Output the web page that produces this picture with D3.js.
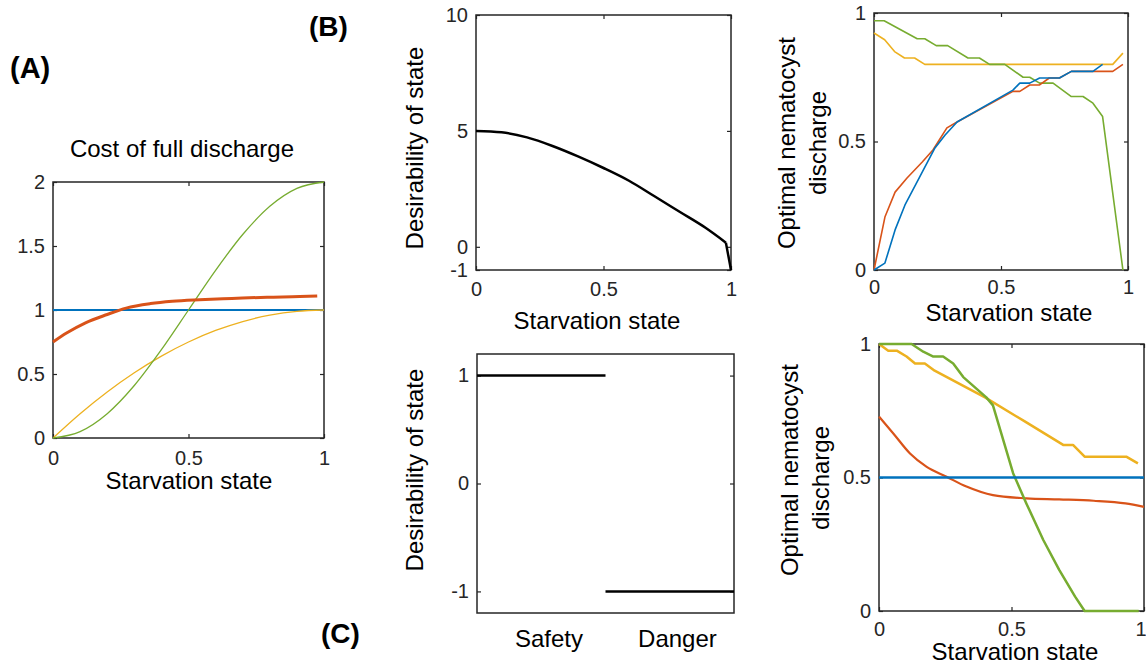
<!DOCTYPE html>
<html>
<head>
<meta charset="utf-8">
<script src="https://cdn.jsdelivr.net/npm/d3@7"></script>
<style>
body { margin: 0; background: #fff; }
svg { display: block; font-family: "Liberation Sans", Arial, sans-serif; }
</style>
</head>
<body>
<svg id="fig" width="1146" height="664"></svg>
<script>
// --- data ---

// (A) cost of full discharge
var costX = [0, 0.1, 0.2, 0.3, 0.4, 0.5, 0.6, 0.7, 0.8, 0.9, 1];
var costBlue = [1, 1, 1, 1, 1, 1, 1, 1, 1, 1, 1];
var costYellow = [0, 0.19, 0.36, 0.51, 0.64, 0.75, 0.84, 0.91, 0.96, 0.99, 1];
var costGreen = [0, 0.05, 0.19, 0.41, 0.69, 1, 1.31, 1.59, 1.81, 1.95, 2];
var costRedX = [0, 0.05, 0.12, 0.2, 0.27, 0.36, 0.44, 0.54, 0.66, 0.79, 0.91, 0.975];
var costRed = [0.75, 0.82, 0.9, 0.965, 1.015, 1.05, 1.068, 1.08, 1.09, 1.1, 1.105, 1.11];

// (B) desirability vs starvation (smooth part, then the drop at the end)
var desirX = [0, 0.1, 0.2, 0.3, 0.4, 0.5, 0.6, 0.7, 0.8, 0.9, 0.98];
var desirY = [5, 4.94, 4.72, 4.35, 3.9, 3.4, 2.85, 2.18, 1.5, 0.82, 0.18];
var desirDropX = [0.98, 1];
var desirDropY = [0.18, -1];

// (B) optimal discharge, [starvation, discharge]
var topBlue = [[0, 0], [0.043, 0.027], [0.083, 0.156], [0.122, 0.253], [0.18, 0.362], [0.24, 0.475],
  [0.28, 0.525], [0.327, 0.576], [0.547, 0.7], [0.574, 0.727], [0.613, 0.727], [0.652, 0.747],
  [0.73, 0.747], [0.777, 0.773], [0.862, 0.773], [0.9, 0.8]];
var topRed = [[0, 0], [0.043, 0.206], [0.083, 0.303], [0.13, 0.358], [0.19, 0.42], [0.232, 0.467],
  [0.287, 0.553], [0.327, 0.576], [0.547, 0.695], [0.574, 0.695], [0.613, 0.72], [0.652, 0.72],
  [0.69, 0.747], [0.73, 0.747], [0.777, 0.773], [0.94, 0.773], [0.98, 0.8]];
var topYellow = [[0, 0.922], [0.042, 0.896], [0.081, 0.85], [0.12, 0.825], [0.16, 0.825], [0.2, 0.8],
  [0.94, 0.8], [0.98, 0.844]];
var topGreen = [[0, 0.97], [0.04, 0.97], [0.17, 0.9], [0.2, 0.9], [0.245, 0.873], [0.29, 0.873],
  [0.37, 0.825], [0.415, 0.825], [0.455, 0.8], [0.515, 0.8], [0.587, 0.75], [0.613, 0.75],
  [0.652, 0.727], [0.705, 0.727], [0.777, 0.675], [0.823, 0.675], [0.862, 0.649], [0.9, 0.597],
  [0.98, 0]];

// (C) desirability of safety / danger
var states = ["Safety", "Danger"];
var stateValues = [1, -1];

// (C) optimal discharge
var botBlue = [[0, 0.5], [1, 0.5]];
var botRed = [[0, 0.728], [0.054, 0.665], [0.117, 0.59], [0.18, 0.54], [0.255, 0.503], [0.33, 0.466],
  [0.43, 0.434], [0.556, 0.422], [0.68, 0.418], [0.81, 0.413], [0.93, 0.403], [1, 0.39]];
var botYellow = [[0, 1], [0.035, 0.975], [0.067, 0.975], [0.104, 0.953], [0.136, 0.927], [0.173, 0.927],
  [0.21, 0.9], [0.4, 0.8], [0.55, 0.71], [0.695, 0.622], [0.732, 0.622], [0.776, 0.578],
  [0.933, 0.578], [0.977, 0.553]];
var botGreen = [[0, 1], [0.123, 1], [0.167, 0.971], [0.205, 0.953], [0.242, 0.953], [0.28, 0.927],
  [0.318, 0.876], [0.405, 0.8], [0.43, 0.77], [0.506, 0.516], [0.556, 0.403], [0.62, 0.266],
  [0.68, 0.154], [0.74, 0.054], [0.776, 0], [0.98, 0]];

var blue = "#0072BD", red = "#D95319", yellow = "#EDB120", green = "#77AC30";
var axisColor = "#262626";

var svg = d3.select("#fig");

function fmt(d) { return String(d); }

// one MATLAB-style boxed axes, ticks pointing inward on all four sides
function makeAxes(box, xDomain, yDomain, xTicks, yTicks, pad) {
	var g = svg.append("g").attr("transform", "translate(" + box.x + "," + box.y + ")");
	var x = d3.scaleLinear().domain(xDomain).range([0, box.w]);
	var y = d3.scaleLinear().domain(yDomain).range([box.h, 0]);

	if (xTicks) {
		g.append("g").attr("class", "ax xb").attr("transform", "translate(0," + box.h + ")")
			.call(d3.axisBottom(x).tickValues(xTicks).tickSize(-4).tickPadding(pad || 12).tickFormat(fmt));
		g.append("g").attr("class", "ax")
			.call(d3.axisTop(x).tickValues(xTicks).tickSize(-4).tickFormat(""));
	}
	g.append("g").attr("class", "ax")
		.call(d3.axisLeft(y).tickValues(yTicks).tickSize(-4).tickPadding(8).tickFormat(fmt));
	g.append("g").attr("class", "ax").attr("transform", "translate(" + box.w + ",0)")
		.call(d3.axisRight(y).tickValues(yTicks).tickSize(-4).tickFormat(""));

	g.selectAll(".ax .domain").remove();
	g.selectAll(".ax line").attr("stroke", axisColor).attr("stroke-width", 1.2);
	g.selectAll(".ax text").attr("fill", axisColor).style("font-size", "20px")
		.style("font-family", "'Liberation Sans', Arial, sans-serif");

	g.append("rect").attr("width", box.w).attr("height", box.h)
		.attr("fill", "none").attr("stroke", axisColor).attr("stroke-width", 1.5);
	return { g: g, x: x, y: y };
}

function drawPairs(ax, pts, color, width, curve) {
	ax.g.append("path").datum(pts)
		.attr("fill", "none").attr("stroke", color).attr("stroke-width", width)
		.attr("stroke-linejoin", "round")
		.attr("d", d3.line().x(function(d) { return ax.x(d[0]); }).y(function(d) { return ax.y(d[1]); })
			.curve(curve || d3.curveLinear));
}

function zipXY(xs, ys) { return xs.map(function(v, i) { return [v, ys[i]]; }); }

function label(txt, x, y, size, opts) {
	opts = opts || {};
	var t = svg.append("text").attr("x", x).attr("y", y).text(txt)
		.attr("fill", opts.fill || "#000").style("font-size", size + "px")
		.attr("text-anchor", opts.anchor || "middle");
	if (opts.bold) t.style("font-weight", "bold");
	if (opts.rotate) t.attr("transform", "rotate(-90," + x + "," + y + ")");
	return t;
}

// --- (A) ---
var axA = makeAxes({ x: 53, y: 182, w: 271, h: 256 }, [0, 1], [0, 2], [0, 0.5, 1], [0, 0.5, 1, 1.5, 2], 13);
drawPairs(axA, zipXY(costX, costBlue), blue, 2.2);
drawPairs(axA, zipXY(costX, costYellow), yellow, 1.3, d3.curveMonotoneX);
drawPairs(axA, zipXY(costX, costGreen), green, 1.3, d3.curveMonotoneX);
drawPairs(axA, zipXY(costRedX, costRed), red, 3, d3.curveMonotoneX);
label("Cost of full discharge", 182, 157, 24);
label("Starvation state", 189, 489, 24);

// --- (B) desirability ---
var axB1 = makeAxes({ x: 476, y: 15, w: 255, h: 255 }, [0, 1], [-1, 10], [0, 0.5, 1], [-1, 0, 5, 10], 12);
drawPairs(axB1, zipXY(desirX, desirY), "#000", 2.5, d3.curveMonotoneX);
drawPairs(axB1, zipXY(desirDropX, desirDropY), "#000", 2.5);
label("Desirability of state", 423, 148, 24, { rotate: true });
label("Starvation state", 597, 329, 24);

// --- (B) optimal discharge ---
var axB2 = makeAxes({ x: 874, y: 13, w: 254, h: 257 }, [0, 1], [0, 1], [0, 0.5, 1], [0, 0.5, 1], 10);
drawPairs(axB2, topYellow, yellow, 1.6);
drawPairs(axB2, topGreen, green, 1.6);
drawPairs(axB2, topRed, red, 1.6);
drawPairs(axB2, topBlue, blue, 1.6);
label("Optimal nematocyst", 795, 143, 24, { rotate: true });
label("discharge", 826, 143, 24, { rotate: true });
label("Starvation state", 1009, 321, 24);

// --- (C) desirability safety / danger ---
var axC1 = makeAxes({ x: 477, y: 354, w: 257, h: 259 }, [0, 1], [-1.2, 1.2], null, [-1, 0, 1]);
var band = d3.scaleBand().domain(states).range([0, 257]);
axC1.g.selectAll("line.state").data(states).enter().append("line")
	.attr("class", "state")
	.attr("x1", function(d) { return band(d); })
	.attr("x2", function(d) { return band(d) + band.bandwidth(); })
	.attr("y1", function(d, i) { return axC1.y(stateValues[i]); })
	.attr("y2", function(d, i) { return axC1.y(stateValues[i]); })
	.attr("stroke", "#000").attr("stroke-width", 2.5);
axC1.g.selectAll("text.state").data(states).enter().append("text")
	.attr("class", "state")
	.attr("x", function(d) { return band(d) + band.bandwidth() * 0.56; })
	.attr("y", 293)
	.attr("text-anchor", "middle").style("font-size", "24px").attr("fill", "#000")
	.text(function(d) { return d; });
label("Desirability of state", 423, 470, 24, { rotate: true });

// --- (C) optimal discharge ---
var axC2 = makeAxes({ x: 879, y: 344, w: 265, h: 267 }, [0, 1], [0, 1], [0, 0.5, 1], [0, 0.5, 1], 11);
// the last tick label sits at the figure edge; keep it inside
axC2.g.selectAll(".xb .tick text").filter(function(d) { return d === 1; })
	.attr("text-anchor", "end").attr("dx", 2);
drawPairs(axC2, botRed, red, 2.2, d3.curveMonotoneX);
drawPairs(axC2, botYellow, yellow, 2.5);
drawPairs(axC2, botGreen, green, 2.5);
drawPairs(axC2, botBlue, blue, 2.5);
label("Optimal nematocyst", 798, 470, 24, { rotate: true });
label("discharge", 829, 478, 24, { rotate: true });
label("Starvation state", 1015, 660, 24);

// panel letters
label("(A)", 10, 78, 29, { bold: true, anchor: "start" });
label("(B)", 309, 36, 28, { bold: true, anchor: "start" });
label("(C)", 321, 643, 28, { bold: true, anchor: "start" });
</script>
</body>
</html>
